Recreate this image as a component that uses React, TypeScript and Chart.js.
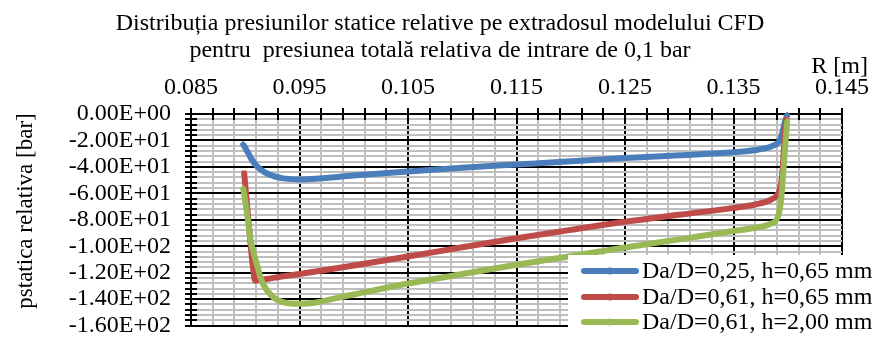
import React, { useEffect, useRef } from 'react';
import { Chart, registerables } from 'chart.js';

Chart.register(...registerables);

const TITLE_LINES = [
  'Distribuția presiunilor statice relative pe extradosul modelului CFD',
  'pentru  presiunea totală relativa de intrare de 0,1 bar',
];
const X_TITLE = 'R [m]';
const Y_TITLE = 'pstatica relativa [bar]';

const X_MIN = 0.085;
const X_MAX = 0.145;
const X_STEP = 0.002;
const X_MAJOR = 0.01;
const Y_MIN = -160;
const Y_MAX = 0;
const Y_STEP = 4;
const Y_MAJOR = 20;

const SERIES_LABELS = [
  'Da/D=0,25, h=0,65 mm',
  'Da/D=0,61, h=0,65 mm',
  'Da/D=0,61, h=2,00 mm',
];
const SERIES_COLORS = ['#4a7ebb', '#be4b48', '#98b954'];
const SERIES_MARKERS = ['rectRot', 'rect', 'triangle'];

const blueR = [0.0898, 0.0902, 0.0906, 0.0910, 0.0915, 0.0920, 0.0927, 0.0935, 0.0950, 0.0965, 0.0985, 0.1000, 0.1050, 0.1100, 0.1150, 0.1200, 0.1250, 0.1300, 0.1350, 0.1370, 0.1384, 0.1390, 0.1393, 0.1395, 0.1397, 0.13995];
const blueP = [-22.9, -28.5, -34.5, -38.8, -42.5, -45.0, -47.2, -48.7, -49.5, -49.0, -47.6, -46.5, -43.5, -40.7, -38.2, -35.7, -33.3, -31.2, -29.0, -27.2, -24.8, -22.5, -19.5, -14.0, -7.0, -0.8];

const redR = [0.0899, 0.0902, 0.0905, 0.0907, 0.0909, 0.0912, 0.0920, 0.0931, 0.0950, 0.1000, 0.1050, 0.1100, 0.1150, 0.1200, 0.1250, 0.1300, 0.1350, 0.1370, 0.1384, 0.1390, 0.1393, 0.1395, 0.1396, 0.1397, 0.1398, 0.1399];
const redP = [-44.5, -72.0, -99.0, -115.0, -126.0, -125.6, -124.8, -123.2, -121.0, -114.5, -107.8, -100.8, -94.0, -87.6, -81.5, -76.2, -71.0, -68.4, -65.0, -61.5, -56.0, -45.0, -32.0, -20.0, -9.0, -4.0];

const greenR = [0.0898, 0.0900, 0.0902, 0.0905, 0.0910, 0.0916, 0.0925, 0.0937, 0.0950, 0.0964, 0.0985, 0.1000, 0.1050, 0.1100, 0.1150, 0.1200, 0.1250, 0.1300, 0.1350, 0.1370, 0.1384, 0.1391, 0.1394, 0.1397, 0.13995];
const greenP = [-55.6, -66.0, -77.4, -95.7, -111.8, -127.8, -138.0, -142.7, -143.4, -142.7, -139.0, -136.5, -128.2, -121.0, -114.0, -107.5, -101.0, -94.8, -88.5, -86.0, -83.1, -77.4, -63.7, -31.6, -5.0];

const SERIES_R = [blueR, redR, greenR];
const SERIES_P = [blueP, redP, greenP];

const FONT_FAMILY = "'Liberation Serif', 'Times New Roman', serif";
const FONT_SIZE = 24;

const isMultiple = (v: number, base: number, step: number) => {
  const q = (v - base) / step;
  return Math.abs(q - Math.round(q)) < 1e-6;
};
const isMajorX = (v: number) => isMultiple(v, X_MIN, X_MAJOR);
const isMajorY = (v: number) => isMultiple(v, 0, Y_MAJOR);

const formatExp = (v: number) => {
  if (v === 0) return '0.00E+00';
  const exp = Math.floor(Math.log10(Math.abs(v)) + 1e-12);
  const mant = v / Math.pow(10, exp);
  const sign = exp < 0 ? '-' : '+';
  const e = String(Math.abs(exp)).padStart(2, '0');
  return `${mant.toFixed(2)}E${sign}${e}`;
};

const buildTicks = (min: number, max: number, step: number) => {
  const n = Math.round((max - min) / step);
  return Array.from({ length: n + 1 }, (_, i) => +(min + i * step).toFixed(6));
};
const X_TICKS = buildTicks(X_MIN, X_MAX, X_STEP);
const Y_TICKS = buildTicks(Y_MIN, Y_MAX, Y_STEP);

const decorPlugin = {
  id: 'decor',
  beforeDatasetsDraw(chart: any) {
    const { ctx, chartArea, scales } = chart;
    ctx.save();
    ctx.strokeStyle = '#000';
    ctx.lineWidth = 2;
    ctx.beginPath();
    for (const v of X_TICKS) {
      const x = Math.round(scales.x.getPixelForValue(v));
      ctx.moveTo(x, chartArea.top);
      ctx.lineTo(x, chartArea.top + 6);
    }
    for (const v of Y_TICKS) {
      const y = Math.round(scales.y.getPixelForValue(v));
      ctx.moveTo(chartArea.left, y);
      ctx.lineTo(chartArea.left + 6, y);
    }
    ctx.stroke();
    ctx.restore();
  },
  afterDraw(chart: any) {
    const { ctx } = chart;
    ctx.save();
    ctx.fillStyle = '#000';
    ctx.font = `${FONT_SIZE}px ${FONT_FAMILY}`;
    ctx.textAlign = 'center';
    ctx.textBaseline = 'alphabetic';
    ctx.fillText(TITLE_LINES[0], 440, 30);
    ctx.fillText(TITLE_LINES[1], 440, 57);

    ctx.textAlign = 'right';
    ctx.fillText(X_TITLE, 868, 73);

    ctx.save();
    ctx.font = `23px ${FONT_FAMILY}`;
    ctx.translate(26, 211);
    ctx.rotate(-Math.PI / 2);
    ctx.textAlign = 'center';
    ctx.textBaseline = 'middle';
    ctx.fillText(Y_TITLE, 0, 0);
    ctx.restore();

    // legend box
    ctx.fillStyle = '#fff';
    ctx.fillRect(568, 255, 875 - 568, 90);
    const rows = [271, 297, 322];
    SERIES_LABELS.forEach((label, i) => {
      const y = rows[i];
      ctx.strokeStyle = SERIES_COLORS[i];
      ctx.lineWidth = 6;
      ctx.lineCap = 'round';
      ctx.beginPath();
      ctx.moveTo(584, y);
      ctx.lineTo(636, y);
      ctx.stroke();
      ctx.fillStyle = SERIES_COLORS[i];
      ctx.beginPath();
      ctx.arc(610, y, 3.5, 0, Math.PI * 2);
      ctx.fill();
      ctx.fillStyle = '#000';
      ctx.textAlign = 'left';
      ctx.textBaseline = 'middle';
      ctx.fillText(label, 642, y + 1);
    });
    ctx.restore();
  },
};

export default function App() {
  const ref = useRef<HTMLCanvasElement | null>(null);

  useEffect(() => {
    if (!ref.current) return;
    Chart.defaults.font.family = FONT_FAMILY;
    Chart.defaults.color = '#000';

    const datasets = SERIES_LABELS.map((label, i) => {
      const rs = SERIES_R[i];
      const ps = SERIES_P[i];
      const last = rs.length - 1;
      return {
        label,
        data: rs.map((r, j) => ({ x: r, y: ps[j] })),
        borderColor: SERIES_COLORS[i],
        backgroundColor: SERIES_COLORS[i],
        borderWidth: 6,
        pointStyle: SERIES_MARKERS[i],
        pointRadius: (c: any) => (c.dataIndex === 0 || c.dataIndex === last ? 3.5 : 0),
        pointBorderWidth: 0,
        cubicInterpolationMode: 'monotone' as const,
        fill: false,
        order: 2 - i,
        clip: 6,
      };
    });

    const chart = new Chart(ref.current, {
      type: 'line',
      data: { datasets },
      options: {
        animation: false,
        responsive: false,
        devicePixelRatio: 1,
        layout: { padding: { left: 0, right: 25, top: 0, bottom: 7 }, autoPadding: false },
        plugins: {
          legend: { display: false },
          title: { display: false },
          tooltip: { enabled: false },
        },
        scales: {
          x: {
            type: 'linear',
            position: 'top',
            min: X_MIN,
            max: X_MAX,
            afterBuildTicks: (scale: any) => {
              scale.ticks = X_TICKS.map((v) => ({ value: v }));
            },
            afterFit: (scale: any) => {
              scale.height = 114;
            },
            ticks: {
              autoSkip: false,
              maxRotation: 0,
              padding: 6,
              font: { size: FONT_SIZE, family: FONT_FAMILY },
              color: '#000',
              callback: (v: any) => (isMajorX(Number(v)) ? Number(v).toFixed(3) : ''),
            },
            grid: {
              color: (c: any) => (c.tick && isMajorX(c.tick.value) ? '#000' : '#bfbfbf'),
              lineWidth: 2,
              tickColor: '#000',
              tickWidth: 2,
              tickLength: 6,
            },
            border: { color: '#000', width: 2 },
          },
          y: {
            type: 'linear',
            min: Y_MIN,
            max: Y_MAX,
            afterBuildTicks: (scale: any) => {
              scale.ticks = Y_TICKS.map((v) => ({ value: v }));
            },
            afterFit: (scale: any) => {
              scale.width = 191;
            },
            ticks: {
              autoSkip: false,
              padding: 14,
              font: { size: FONT_SIZE, family: FONT_FAMILY },
              color: '#000',
              callback: (v: any) => (isMajorY(Number(v)) ? formatExp(Number(v)) : ''),
            },
            grid: {
              color: (c: any) => (c.tick && isMajorY(c.tick.value) ? '#000' : '#bfbfbf'),
              lineWidth: 2,
              tickColor: '#000',
              tickWidth: 2,
              tickLength: 6,
            },
            border: { color: '#000', width: 2 },
          },
        },
      },
      plugins: [decorPlugin],
    });
    return () => chart.destroy();
  }, []);

  return (
    <canvas
      ref={ref}
      width={875}
      height={354}
      style={{ position: 'absolute', left: 0, top: 0, width: 875, height: 354, background: '#fff' }}
    />
  );
}
